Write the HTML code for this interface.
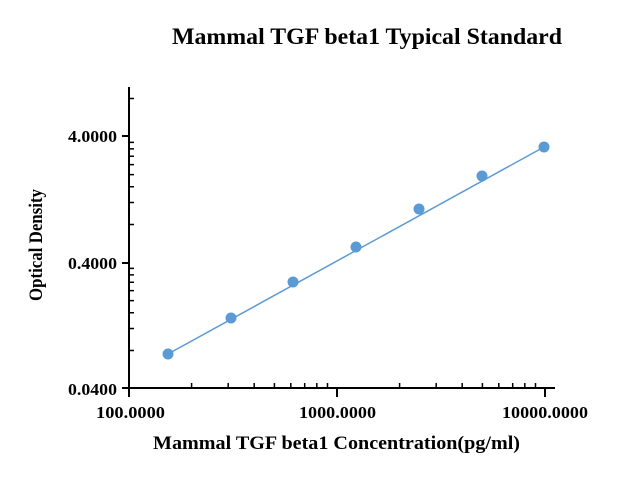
<!DOCTYPE html>
<html><head><style>body{margin:0;background:#fff}</style></head><body>
<svg width="641" height="486" xmlns="http://www.w3.org/2000/svg" font-family="Liberation Serif, serif" font-weight="bold">
<text x="367" y="44" text-anchor="middle" font-size="23" textLength="390" lengthAdjust="spacingAndGlyphs">Mammal TGF beta1 Typical Standard</text>
<g stroke="#000" stroke-width="2" fill="none">
<line x1="129" y1="87" x2="129" y2="389"/>
<line x1="128" y1="388" x2="555" y2="388"/>
<line x1="122" y1="136" x2="129" y2="136"/>
<line x1="122" y1="263" x2="129" y2="263"/>
<line x1="122" y1="388" x2="129" y2="388"/>
<line x1="129" y1="388" x2="129" y2="397"/>
<line x1="337" y1="388" x2="337" y2="397"/>
<line x1="545" y1="388" x2="545" y2="397"/>
</g>
<g stroke="#000" stroke-width="1.5">
<path d="M129 350.5h5M129 328.5h5M129 312.8h5M129 300.6h5M129 290.6h5M129 282.2h5M129 274.9h5M129 268.4h5
M129 224.5h5M129 202.5h5M129 186.8h5M129 174.6h5M129 164.6h5M129 156.2h5M129 148.9h5M129 142.4h5
M129 98.5h5
M191.6 388v-5M228.2 388v-5M254.2 388v-5M274.4 388v-5M290.8 388v-5M304.7 388v-5M316.8 388v-5M327.5 388v-5
M399.6 388v-5M436.2 388v-5M462.2 388v-5M482.4 388v-5M498.8 388v-5M512.7 388v-5M524.8 388v-5M535.5 388v-5"/>
</g>
<g font-size="17">
<text x="68" y="142" textLength="49" lengthAdjust="spacingAndGlyphs">4.0000</text>
<text x="68" y="269" textLength="49" lengthAdjust="spacingAndGlyphs">0.4000</text>
<text x="68" y="395" textLength="49" lengthAdjust="spacingAndGlyphs">0.0400</text>
</g>
<g font-size="17">
<text x="96" y="418" textLength="69" lengthAdjust="spacingAndGlyphs">100.0000</text>
<text x="299" y="418" textLength="77" lengthAdjust="spacingAndGlyphs">1000.0000</text>
<text x="502" y="418" textLength="86" lengthAdjust="spacingAndGlyphs">10000.0000</text>
</g>
<text x="153" y="449" font-size="19" textLength="367" lengthAdjust="spacingAndGlyphs">Mammal TGF beta1 Concentration(pg/ml)</text>
<text transform="translate(42,245) rotate(-90)" text-anchor="middle" font-size="19" textLength="112" lengthAdjust="spacingAndGlyphs">Optical Density</text>
<polyline points="168,354 544,147" stroke="#5b9bd5" stroke-width="1.5" fill="none"/>
<g fill="#5b9bd5">
<circle cx="168" cy="354" r="5.5"/><circle cx="231" cy="318" r="5.5"/><circle cx="293" cy="282" r="5.5"/>
<circle cx="356" cy="247" r="5.5"/><circle cx="419" cy="209" r="5.5"/><circle cx="482" cy="176" r="5.5"/>
<circle cx="544" cy="147" r="5.5"/>
</g>
</svg>
</body></html>
